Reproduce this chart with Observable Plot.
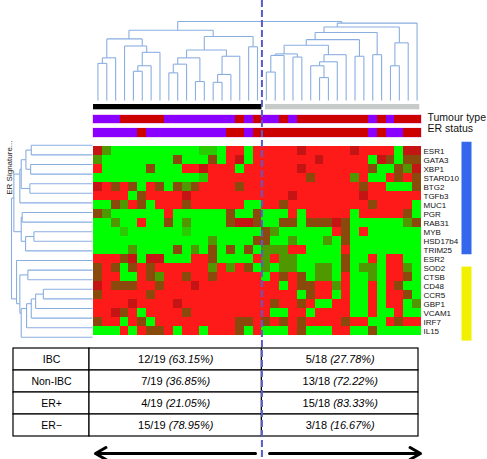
<!DOCTYPE html>
<html><head><meta charset="utf-8">
<script src="https://cdn.jsdelivr.net/npm/d3@7"></script>
<script src="https://cdn.jsdelivr.net/npm/@observablehq/plot@0.6"></script>
<style>
html,body{margin:0;padding:0;background:#fff;}
#chart{position:relative;width:487px;height:459px;overflow:hidden;font-family:"Liberation Sans",Arial,sans-serif;}
#chart > div{position:absolute;}
#chart svg{display:block;}
</style></head><body><div id="chart"></div>
<script>
// ---------- DATA ----------
const genes = ["ESR1","GATA3","XBP1","STARD10","BTG2","TGFb3","MUC1","PGR","RAB31","MYB","HSD17b4","TRIM25","ESR2","SOD2","CTSB","CD48","CCR5","GBP1","VCAM1","IRF7","IL15"];
const geneSignature = ["ER","ER","ER","ER","ER","ER","ER","ER","ER","ER","ER","ER","","Immune","Immune","Immune","Immune","Immune","Immune","Immune","Immune"];
const columns = [0,1,2,3,4,5,6,7,8,9,10,11,12,13,14,15,16,17,18,19,20,21,22,23,24,25,26,27,28,29,30,31,32,33,34,35,36];
const clusterOf = [1,1,1,1,1,1,1,1,1,1,1,1,1,1,1,1,1,1,1, 2,2,2,2,2,2,2,2,2,2,2,2,2,2,2,2,2,2];
const tumourType = ["IBC","IBC","IBC","Non-IBC","Non-IBC","Non-IBC","Non-IBC","Non-IBC","IBC","IBC","IBC","IBC","IBC","IBC","IBC","IBC","Non-IBC","IBC","Non-IBC",
  "IBC","IBC","Non-IBC","IBC","Non-IBC","Non-IBC","Non-IBC","Non-IBC","Non-IBC","Non-IBC","Non-IBC","Non-IBC","IBC","Non-IBC","IBC","Non-IBC","Non-IBC","Non-IBC"];
const erStatus = ["ER−","ER−","ER−","ER−","ER−","ER+","ER−","ER−","ER−","ER−","ER−","ER−","ER−","ER−","ER−","ER+","ER+","ER−","ER+",
  "ER+","ER+","ER+","ER+","ER+","ER+","ER+","ER+","ER+","ER+","ER+","ER+","ER−","ER+","ER−","ER−","ER+","ER+"];

// expression (log ratio, green = low, red = high), one row per gene
const heatRows = [
 [1,-1,-2,-2,-2,-2,-2,-2,-2,-2,-2,-2,-1.5,-1.5,-2,2,2,-2,2, 2,2,2,2,1,2,2,2,2,2,1,2,2,2,2,-2,1,1], // ESR1
 [-1,-2,-2,-2,-2,-2,-2,-2,-2,0,-2,-2,-2,0,-2,2,1,-2,2, 2,2,2,2,2,2,1,2,2,2,2,2,-2,1,0,-2,0,0], // GATA3
 [2,-2,-2,-2,-2,-2,0,-2,-2,-2,2,2,1,2,2,2,-2,2,2, 2,2,2,2,1,2,2,2,2,2,2,2,0,-2,-2,0,-1,1], // XBP1
 [-2,-2,-2,-2,-2,-2,-2,-2,-2,-2,-2,-2,-1.5,2,2,2,2,2,2, 2,2,2,2,2,0,2,2,2,2,-1,2,-2,-2,2,0,2,0], // STARD10
 [1,2,0,2,0,-2,2,0,-2,0,-1,0,2,2,2,2,0,2,2, 2,2,2,2,2,2,2,2,2,2,2,0,2,2,-2,-2,-2,0], // BTG2
 [2,2,2,2,-2,0,2,2,2,2,1,2,2,2,2,2,2,2,2, 2,2,2,1,2,2,2,2,2,2,2,1,2,2,2,2,2,2], // TGFb3
 [-2,-2,0,-1,2,0,-2,2,2,2,0,2,2,2,2,2,2,-2,-2, 2,2,0,2,2,2,2,2,2,2,2,2,0,2,2,2,2,-2], // MUC1
 [0,-1,-2,-2,-2,-2,-2,-2,2,-2,-2,-2,-2,-2,-2,0,-2,-2,0, -2,-2,-2,2,-2,2,2,2,2,2,-2,2,2,2,2,2,0,-2], // PGR
 [-2,-2,-1,-2,-2,2,-2,-2,0,-2,-1,-2,-2,-2,-2,0,1,1,0, -2,-2,0,0,-2,0,0,0,1,0,-2,-2,-2,-2,-2,-2,-1,0], // RAB31
 [-2,-2,-2,-1.5,-2,-2,-2,-2,-2,-2,-1.5,-2,-2,-2,-2,-2,-2,-2,-2, 0,-1,-2,-2,-2,-2,-2,-2,2,0,-2,2,-2,-2,-2,-2,-2,-2], // MYB
 [-2,-2,-2,-2,-2,-2,-2,-2,-2,-2,-2,-2,-2,-1,-2,-2,-2,-2,0, 0,-2,-2,-1,-2,-2,-2,-1,-2,0,-2,-2,-2,-2,-2,-2,-2,-2], // HSD17b4
 [-2,-2,-2,-2,-1,-2,-2,-2,-2,0,-2,-1,-2,0,-2,0,-2,0,-2, -1,-1,-1,2,2,-2,-2,-2,-2,2,-2,-2,-2,-2,-2,-2,-2,-2], // TRIM25
 [2,2,2,0,1,-2,1,1,-2,-2,-2,2,2,0,-2,-2,-2,-2,2, -1,2,-1,-1,-2,-2,-2,-2,-2,0,-2,-2,2,-2,2,2,-2,-2], // ESR2
 [0,2,0,-2,0,2,0,2,2,2,2,2,2,-1,2,-1,2,0,-2, -1,-2,-1,-1,-2,-2,-1,-1,-2,0,-2,-1,-1,-2,2,2,-1,-2], // SOD2
 [0,2,2,-2,-2,2,0,-1,2,2,0,2,2,0,2,2,2,2,2, -2,2,0,2,0,-2,-1,-1,-2,2,-2,-2,-1,-2,2,2,0,-2], // CTSB
 [1,2,0,0,0,2,2,0,2,2,2,1,2,2,2,2,2,2,2, 2,2,-2,2,0,0,2,2,-1,2,-2,-2,2,-2,2,0,-2,-2], // CD48
 [0,2,2,2,2,2,0,2,2,2,2,2,2,2,2,2,2,2,2, 2,2,2,2,-2,0,2,2,-2,2,-2,-2,2,-2,2,2,0,-2], // CCR5
 [2,2,2,2,1,2,2,2,2,1,2,2,2,2,2,2,2,2,2, 2,0,2,2,0,2,-2,-2,2,2,-2,-2,2,-2,2,2,-2,-1], // GBP1
 [2,2,1,0,2,-2,2,2,2,2,0,2,2,2,2,2,2,2,2, 2,-2,-2,2,2,-2,2,2,2,2,-2,-2,2,-2,-2,2,-2,-2], // VCAM1
 [0,2,2,-2,2,0,-2,2,2,2,2,2,2,2,2,2,0,0,2, 0,2,0,2,0,2,2,2,2,0,2,2,-2,-2,2,0,2,2], // IRF7
 [-2,-2,-2,2,-2,2,0,0,2,-2,2,2,-2,2,2,2,0,-2,2, -2,-2,-2,2,0,-2,-2,-2,2,2,-2,-2,0,-2,-2,-2,-2,-2]  // IL15
];

// sample dendrogram (hclust style: negative = leaf column, positive = earlier merge), height
const sampleMerges = [
 [-1,-2,0.47],[1,-3,0.54],[-5,-6,0.37],[3,-7,0.44],[4,-8,0.61],[-4,5,0.69],[2,6,0.78],
 [-9,-10,0.35],[8,-11,0.46],[-12,-13,0.24],[9,10,0.54],[-14,-15,0.23],[12,-16,0.33],[13,-17,0.56],
 [11,14,0.64],[-18,-19,0.68],[15,16,0.81],[7,17,0.89],
 [-20,-21,0.36],[19,-22,0.57],[-23,-24,0.55],[20,21,0.59],[-26,-27,0.29],[-25,23,0.44],[24,-28,0.49],
 [25,-29,0.58],[22,26,0.70],[-30,-31,0.56],[27,28,0.77],[-32,-33,0.58],[29,30,0.86],[-34,-35,0.44],
 [32,-36,0.73],[31,33,0.93],[34,-37,0.98],[18,35,1.00]
];
// gene dendrogram
const geneMerges = [
 [-1,-2,0.756],[-3,-4,0.764],[1,2,0.822],[-5,-6,0.773],[3,4,0.880],[5,-7,0.897],[-8,-9,0.868],
 [-10,-11,0.723],[8,-12,0.826],[7,9,0.880],[6,10,0.971],
 [-14,-15,0.798],[-16,-17,0.607],[13,-18,0.702],[14,-19,0.756],[15,-20,0.814],[16,-21,0.880],
 [12,17,0.897],[-13,18,0.938],[11,19,1.0]
];

// summary table
const tableRows = ["IBC","Non-IBC","ER+","ER−"];
const cluster1Counts = [12,7,4,15];
const cluster2Counts = [5,13,15,3];
const clusterTotals = [19,18];
const cluster1Pct = ["63.15","36.85","21.05","78.95"];
const cluster2Pct = ["27.78","72.22","83.33","16.67"];

// ---------- HELPERS ----------
const chart = document.getElementById("chart");
function place(svg, left, top) {
  const d = document.createElement("div");
  d.style.left = left + "px"; d.style.top = top + "px";
  d.appendChild(svg); chart.appendChild(d);
  return svg;
}
const font = "Liberation Sans, Arial, Helvetica, sans-serif";
const baseStyle = {background: "none", overflow: "visible", fontFamily: font};
const colDomain = [d3.min(columns) - 0.5, d3.max(columns) + 0.5];

function treeSegments(merges) {
  const nodes = [];
  const get = c => c < 0 ? {pos: -c - 1, h: 0, leaves: [-c - 1]} : nodes[c - 1];
  const segs = [];
  for (const [a, b, h] of merges) {
    const A = get(a), B = get(b);
    segs.push({p1: A.pos, h1: A.h, p2: A.pos, h2: h});
    segs.push({p1: B.pos, h1: B.h, p2: B.pos, h2: h});
    segs.push({p1: A.pos, h1: h, p2: B.pos, h2: h});
    const leaves = A.leaves.concat(B.leaves);
    nodes.push({pos: d3.mean(leaves), h, leaves});
  }
  return segs;
}

const clusterSpans = [1, 2].map(c => {
  const idx = columns.filter(i => clusterOf[i] === c);
  return {cluster: c, x1: d3.min(idx) - 0.5, x2: d3.max(idx) + 0.5};
});
const boundary = clusterSpans[0].x2;
const dendroColor = "#8aaee0";

// ---------- TOP DENDROGRAM ----------
place(Plot.plot({
  width: 487, height: 102, marginLeft: 93, marginRight: 66, marginTop: 21, marginBottom: 2,
  x: {domain: colDomain, axis: null},
  y: {domain: [0, 1], axis: null},
  style: baseStyle,
  marks: [Plot.link(treeSegments(sampleMerges), {x1: "p1", y1: "h1", x2: "p2", y2: "h2", stroke: dendroColor, strokeWidth: 1.1})]
}), 0, 0);

// ---------- ANNOTATION BARS ----------
const purple = "#8a00ff", darkRed = "#cc0000";
place(Plot.plot({
  width: 487, height: 38, marginLeft: 93, marginRight: 66, marginTop: 2, marginBottom: 3,
  x: {domain: colDomain, axis: null},
  y: {type: "band", domain: ["cluster", "tumour", "er"], padding: 0, axis: null},
  color: {domain: ["IBC", "Non-IBC", "ER−", "ER+"], range: [purple, darkRed, purple, darkRed]},
  style: baseStyle,
  marks: [
    Plot.barX(clusterSpans.filter(d => d.cluster === 1), {x1: "x1", x2: "x2", y: () => "cluster", fill: "#000", insetBottom: 5.7}),
    Plot.barX(clusterSpans.filter(d => d.cluster === 2), {x1: "x1", x2: "x2", y: () => "cluster", fill: "#c6cbca", insetBottom: 5.7, insetLeft: 3.5, insetRight: 1.7}),
    Plot.barX(["tumour"], {x1: () => colDomain[0], x2: () => colDomain[1], y: d => d, fill: "none", stroke: "#f0c6f2", strokeWidth: 1.5, insetBottom: 2.7}),
    Plot.barX(["er"], {x1: () => colDomain[0], x2: () => colDomain[1], y: d => d, fill: "none", stroke: "#f0c6f2", strokeWidth: 1.5, insetTop: 2.3}),
    Plot.barX(columns, {x1: i => i - 0.5, x2: i => i + 0.5, y: () => "tumour", fill: i => tumourType[i], insetBottom: 2.7, shapeRendering: "crispEdges"}),
    Plot.barX(columns, {x1: i => i - 0.5, x2: i => i + 0.5, y: () => "er", fill: i => erStatus[i], insetTop: 2.3, shapeRendering: "crispEdges"}),
    Plot.text([{t: "tumour", s: "Tumour type"}, {t: "er", s: "ER status"}], {y: "t", text: "s", frameAnchor: "right", textAnchor: "start", dx: 6, dy: -3, fontSize: 10.5, fill: "#111"})
  ]
}), 0, 102);

// ---------- HEATMAP ----------
const cellData = genes.flatMap((g, r) => heatRows[r].map((v, c) => ({gene: g, col: c, v})));
place(Plot.plot({
  width: 487, height: 202, marginLeft: 93, marginRight: 66, marginTop: 0, marginBottom: 0.4,
  x: {type: "band", domain: columns, padding: 0, axis: null},
  y: {type: "band", domain: genes, padding: 0, axis: null},
  color: {type: "linear", domain: [-2, -1, 0, 1, 2], range: ["#00ff00", "#4f9800", "#8a4a0c", "#c41414", "#ff1a1a"], interpolate: "rgb"},
  style: baseStyle,
  marks: [
    Plot.cell(cellData, {x: "col", y: "gene", fill: "v", inset: 0, shapeRendering: "crispEdges"}),
    Plot.text(genes, {y: d => d, text: d => d, frameAnchor: "right", textAnchor: "start", dx: 2, fontSize: 8, fill: "#111"})
  ]
}), 0, 140);

// ---------- SIGNATURE SIDE BARS ----------
const sigGroups = ["ER", "Immune"].map(s => {
  const idx = geneSignature.map((g, i) => g === s ? i : -1).filter(i => i >= 0);
  return {sig: s, y1: d3.min(idx) - 0.5, y2: d3.max(idx) + 0.5};
});
place(Plot.plot({
  width: 30, height: 202, marginLeft: 11, marginRight: 9, marginTop: 0, marginBottom: 0.4,
  x: {type: "point", domain: ["sig"], axis: null},
  y: {domain: [-0.5, genes.length - 0.5], reverse: true, axis: null},
  style: baseStyle,
  marks: [Plot.ruleX(sigGroups, {x: () => "sig", y1: "y1", y2: "y2", stroke: d => d.sig === "ER" ? "#3467ec" : "#f0f000", strokeWidth: 10, insetTop: 1.8, insetBottom: 1})]
}), 450, 140);

// ---------- GENE DENDROGRAM ----------
place(Plot.plot({
  width: 93, height: 202, marginLeft: 11, marginRight: 1, marginTop: 0, marginBottom: 0.4,
  x: {domain: [1, 0], axis: null},
  y: {domain: [-0.5, genes.length - 0.5], reverse: true, axis: null},
  style: baseStyle,
  marks: [
    Plot.link(treeSegments(geneMerges), {x1: "h1", y1: "p1", x2: "h2", y2: "p2", stroke: dendroColor, strokeWidth: 1.1}),
    Plot.text(["ER Signature..."], {frameAnchor: "top-left", rotate: -90, textAnchor: "end", dx: -5, fontSize: 8, fill: "#222"})
  ]
}), 0, 140);

// ---------- SUMMARY TABLE ----------
const rowH = {type: "band", domain: tableRows, padding: 0, axis: null};
place(Plot.plot({
  width: 77, height: 93, marginLeft: 0.5, marginRight: 0.5, marginTop: 0.7, marginBottom: 1,
  x: {type: "band", domain: ["label"], padding: 0, axis: null},
  y: rowH,
  style: baseStyle,
  marks: [
    Plot.cell(tableRows, {x: () => "label", y: d => d, fill: "#fff", stroke: "#000", strokeWidth: 1.2, inset: 0}),
    Plot.text(tableRows, {x: () => "label", y: d => d, text: d => d, fontSize: 10.5, fill: "#000"})
  ]
}), 12, 346);

const tableCells = tableRows.flatMap((r, i) => [
  {row: r, cluster: 1, x1: clusterSpans[0].x1, x2: clusterSpans[0].x2, label: `${cluster1Counts[i]}/${clusterTotals[0]} (${cluster1Pct[i]}%)`},
  {row: r, cluster: 2, x1: clusterSpans[1].x1, x2: clusterSpans[1].x2, label: `${cluster2Counts[i]}/${clusterTotals[1]} (${cluster2Pct[i]}%)`}
]);
const valSvg = place(Plot.plot({
  width: 487, height: 93, marginLeft: 93, marginRight: 66, marginTop: 0.7, marginBottom: 1,
  x: {domain: colDomain, axis: null},
  y: rowH,
  style: baseStyle,
  marks: [
    Plot.barX(tableCells.filter(d => d.cluster === 1), {x1: "x1", x2: "x2", y: "row", fill: "#fff", stroke: "#000", strokeWidth: 1.2, insetLeft: -4, insetRight: 0}),
    Plot.barX(tableCells.filter(d => d.cluster === 2), {x1: "x1", x2: "x2", y: "row", fill: "#fff", stroke: "#000", strokeWidth: 1.2, insetLeft: 0, insetRight: 3}),
    Plot.text(tableCells.filter(d => d.cluster === 1), {x: d => (d.x1 + d.x2) / 2, y: "row", text: "label", dx: -2, fontSize: 11, fill: "#000"}),
    Plot.text(tableCells.filter(d => d.cluster === 2), {x: d => (d.x1 + d.x2) / 2, y: "row", text: "label", dx: -1.5, fontSize: 11, fill: "#000"})
  ]
}), 0, 346);
// italicise the percentage part
valSvg.querySelectorAll("text").forEach(t => {
  const s = t.textContent; const k = s.indexOf(" (");
  if (k < 0) return;
  t.textContent = "";
  const a = document.createElementNS("http://www.w3.org/2000/svg", "tspan");
  a.textContent = s.slice(0, k + 1);
  const b = document.createElementNS("http://www.w3.org/2000/svg", "tspan");
  b.textContent = s.slice(k + 1); b.setAttribute("font-style", "italic");
  t.appendChild(a); t.appendChild(b);
});

// ---------- ARROWS ----------
place(Plot.plot({
  width: 487, height: 13, marginLeft: 93, marginRight: 66, marginTop: 0, marginBottom: 0,
  x: {domain: colDomain, axis: null},
  y: {type: "point", domain: ["dir"], axis: null},
  style: baseStyle,
  marks: [
    Plot.arrow([clusterSpans[0]], {x1: () => boundary, x2: "x1", y1: () => "dir", y2: () => "dir", stroke: "#000", strokeWidth: 3, headLength: 6, insetStart: 6.4, insetEnd: 2}),
    Plot.arrow([clusterSpans[1]], {x1: () => boundary, x2: "x2", y1: () => "dir", y2: () => "dir", stroke: "#000", strokeWidth: 3, headLength: 6, insetStart: 7.6, insetEnd: 1})
  ]
}), 0, 446);

// ---------- DASHED CLUSTER SPLIT ----------
const overlay = Plot.plot({
  width: 487, height: 459, marginLeft: 93, marginRight: 66, marginTop: 0, marginBottom: 0,
  x: {domain: colDomain, axis: null},
  style: {...baseStyle, pointerEvents: "none"},
  marks: [Plot.ruleX([boundary], {stroke: "#5a5ad0", strokeWidth: 2, strokeDasharray: "7,3"})]
});
place(overlay, 0, 0);
</script>
</body></html>
